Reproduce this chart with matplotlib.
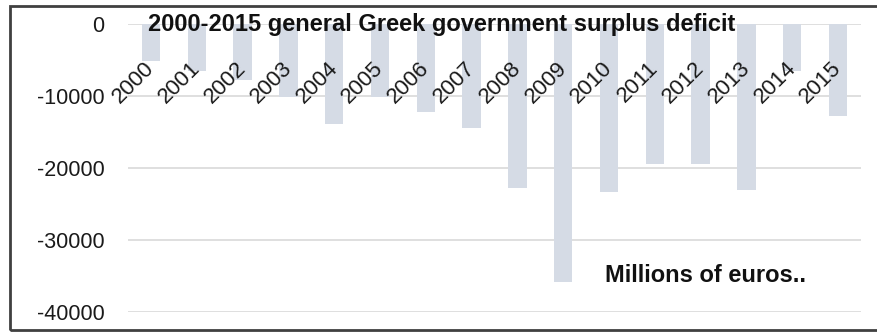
import matplotlib
matplotlib.use("agg")
import matplotlib.pyplot as plt
from matplotlib.patches import Rectangle
import numpy as np

# general government surplus/deficit, millions of euros
years = ['2000', '2001', '2002', '2003', '2004', '2005', '2006', '2007',
         '2008', '2009', '2010', '2011', '2012', '2013', '2014', '2015']
balance = [-5100, -6500, -7800, -10100, -13900, -10100, -12200, -14400,
           -22800, -35800, -23300, -19400, -19400, -23000, -6500, -12800]
yticks = [0, -10000, -20000, -30000, -40000]

plt.rcParams['font.family'] = ['Liberation Sans', 'DejaVu Sans']

fig = plt.figure(figsize=(8.77, 3.33), dpi=100)
ax = fig.add_axes([128/877, 1-312/333, (861-128)/877, (312-24)/333])

x = np.arange(len(years))
ax.bar(x, balance, width=0.4, color='#d5dbe5', zorder=2)

ax.set_xlim(-0.5, len(years)-0.5)
ax.set_ylim(-40000, 0)
ax.set_yticks(yticks)
ax.set_yticklabels([str(v) for v in yticks])
ax.tick_params(axis='y', length=0, pad=17, labelsize=15.5, labelcolor='#1a1a1a')
ax.set_xticks([])
ax.yaxis.grid(True, color='#d9d9d9', lw=1.2, zorder=0)
ax.set_axisbelow(True)
for s in ax.spines.values():
    s.set_visible(False)

# year labels, slanted, sitting just under the zero line
for i, lab in enumerate(years):
    ax.annotate(lab, xy=(i, 0), xycoords='data', xytext=(-5, -24),
                textcoords='offset points', rotation=45, ha='right', va='top',
                rotation_mode='anchor', fontsize=16, color='#1a1a1a', zorder=3)

ax.text(148/877, 1-24/333, '2000-2015 general Greek government surplus deficit',
        transform=fig.transFigure, ha='left', va='center', fontsize=17,
        fontweight='bold', color='#111111', zorder=4)
ax.text(605/877, 1-275/333, 'Millions of euros..', transform=fig.transFigure,
        ha='left', va='center', fontsize=17, fontweight='bold', color='#111111')

# outer frame
fig.patches.append(Rectangle((10/877, 3/333), 1.2, 324/333, transform=fig.transFigure,
                             fill=False, edgecolor='#404040', lw=2))

fig.savefig('out.png', dpi=100)
